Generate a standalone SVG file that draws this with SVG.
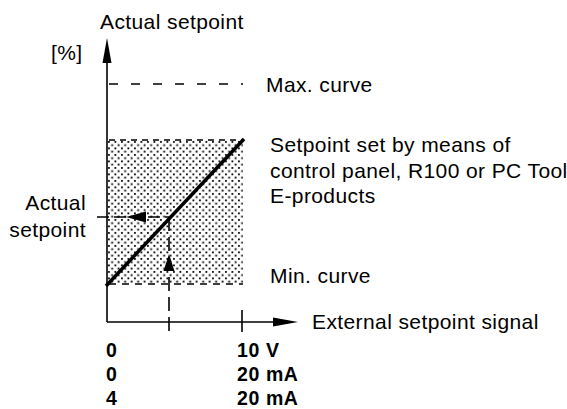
<svg xmlns="http://www.w3.org/2000/svg" width="567" height="409" viewBox="0 0 567 409">
<style>
text{font-family:"Liberation Sans",Arial,sans-serif;font-size:21px;letter-spacing:0.4px;fill:#000}
.b{font-weight:bold;font-size:19.5px;letter-spacing:0.6px}
.ax{stroke:#000;stroke-width:1.6;fill:none}
.dash{stroke:#000;stroke-width:1.6;fill:none;stroke-dasharray:9 13}
</style>
<defs>
<pattern id="dots" width="6.5" height="6.5" patternUnits="userSpaceOnUse" x="107" y="140">
<rect x="1" y="1" width="1.8" height="1.8" fill="#000"/>
<rect x="4.25" y="4.25" width="1.8" height="1.8" fill="#000"/>
</pattern>
</defs>
<g id="shade">
<rect x="107" y="140" width="136" height="144" fill="url(#dots)"/>
<line class="dash" x1="109" y1="140" x2="243" y2="140" style="stroke-dasharray:6 5"/>
<line class="dash" x1="109" y1="284" x2="243" y2="284" style="stroke-dasharray:7 6"/>
</g>
<g id="connectors">
<line class="ax" x1="107" y1="322" x2="107" y2="60"/>
<polygon points="107,38 111.5,63 102.5,63" fill="#000"/>
<line class="ax" x1="107" y1="322" x2="276" y2="322"/>
<polygon points="298,322 273,317.5 273,326.5" fill="#000"/>
<line class="ax" x1="242" y1="310" x2="242" y2="332"/>
<line class="dash" x1="109" y1="84" x2="243" y2="84"/>
<line x1="106" y1="286" x2="244" y2="139" stroke="#000" stroke-width="3.5"/>
<line class="dash" x1="97" y1="217" x2="169" y2="217" style="stroke-dasharray:12 5"/>
<polygon points="126,217 146,211.5 146,222.5" fill="#000"/>
<line class="dash" x1="169" y1="217" x2="169" y2="333" style="stroke-dasharray:14 6"/>
<polygon points="169,254 163.5,271 174.5,271" fill="#000"/>
</g>
<g id="labels">
<text x="100" y="29">Actual setpoint</text>
<text x="51" y="60">[%]</text>
<text x="266" y="92">Max. curve</text>
<text x="270" y="152">Setpoint set by means of</text>
<text x="270" y="178">control panel, R100 or PC Tool</text>
<text x="270" y="203">E-products</text>
<text x="270" y="283">Min. curve</text>
<text x="312" y="329">External setpoint signal</text>
<text x="86" y="210" text-anchor="end">Actual</text>
<text x="86" y="237" text-anchor="end">setpoint</text>
<text class="b" x="106" y="357">0</text>
<text class="b" x="106" y="381">0</text>
<text class="b" x="106" y="405">4</text>
<text class="b" x="237" y="357">10 V</text>
<text class="b" x="237" y="381">20 mA</text>
<text class="b" x="237" y="405">20 mA</text>
</g>
</svg>
